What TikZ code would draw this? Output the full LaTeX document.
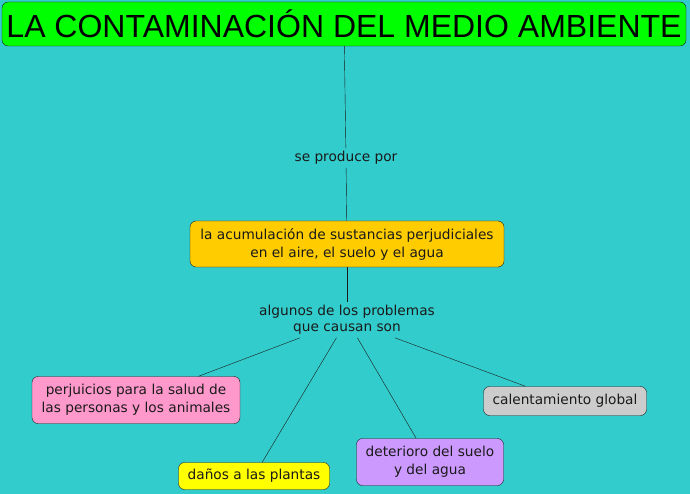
\documentclass[tikz,border=0pt]{standalone}
\usepackage{fontspec}
\setmainfont{DejaVu Sans}
\newfontfamily\titlefont{Liberation Sans}
\usepackage{xcolor}
\definecolor{mapbg}{HTML}{33CCCC}
\definecolor{titlegreen}{HTML}{00FF00}
\definecolor{causeorange}{HTML}{FFCC00}
\definecolor{healthpink}{HTML}{FF99CC}
\definecolor{plantyellow}{HTML}{FFFF00}
\definecolor{soilpurple}{HTML}{CC99FF}
\definecolor{warmgray}{HTML}{CCCCCC}
\definecolor{inkdark}{HTML}{1A1A1A}

\tikzset{
  concept/.style={draw=inkdark, rounded corners=6pt, align=center,
    font=\fontsize{13.7}{18}\selectfont, text=inkdark, inner sep=0pt},
  linklabel/.style={align=center, font=\fontsize{13.7}{16}\selectfont,
    text=inkdark, inner sep=3pt},
  link/.style={draw=inkdark, thin}
}

\begin{document}
\begin{tikzpicture}[x=1pt, y=-1pt]
\useasboundingbox (0,0) rectangle (690,494);
\fill[mapbg] (0,0) rectangle (690,494);

% title
\node[concept, fill=titlegreen, minimum width=684pt, minimum height=44pt,
  font=\titlefont\fontsize{32}{36}\selectfont, text=black] (title) at (344,24)
  {LA CONTAMINACIÓN DEL MEDIO AMBIENTE};

% linking phrases
\node[linklabel] (produce) at (346,158) {se produce por};
\node[linklabel] (problems) at (347,320) {algunos de los problemas\\que causan son};

% concepts
\node[concept, fill=causeorange, minimum width=314pt, minimum height=46pt] (cause) at (347,244)
  {la acumulación de sustancias perjudiciales\\en el aire, el suelo y el agua};
\node[concept, fill=healthpink, minimum width=208pt, minimum height=47pt] (health) at (136,400)
  {perjuicios para la salud de\\las personas y los animales};
\node[concept, fill=plantyellow, minimum width=151pt, minimum height=27pt] (plants) at (254,476)
  {daños a las plantas};
\node[concept, fill=soilpurple, minimum width=147pt, minimum height=47pt] (soil) at (430,462)
  {deterioro del suelo\\y del agua};
\node[concept, fill=warmgray, minimum width=163pt, minimum height=29pt] (warming) at (565,401)
  {calentamiento global};

% connectors
\draw[link] (title) -- (produce);
\draw[link] (produce) -- (cause);
\draw[link] (cause) -- (problems);
\foreach \target in {health, plants, soil, warming} {
  \draw[link] (problems) -- (\target);
}
\end{tikzpicture}
\end{document}
